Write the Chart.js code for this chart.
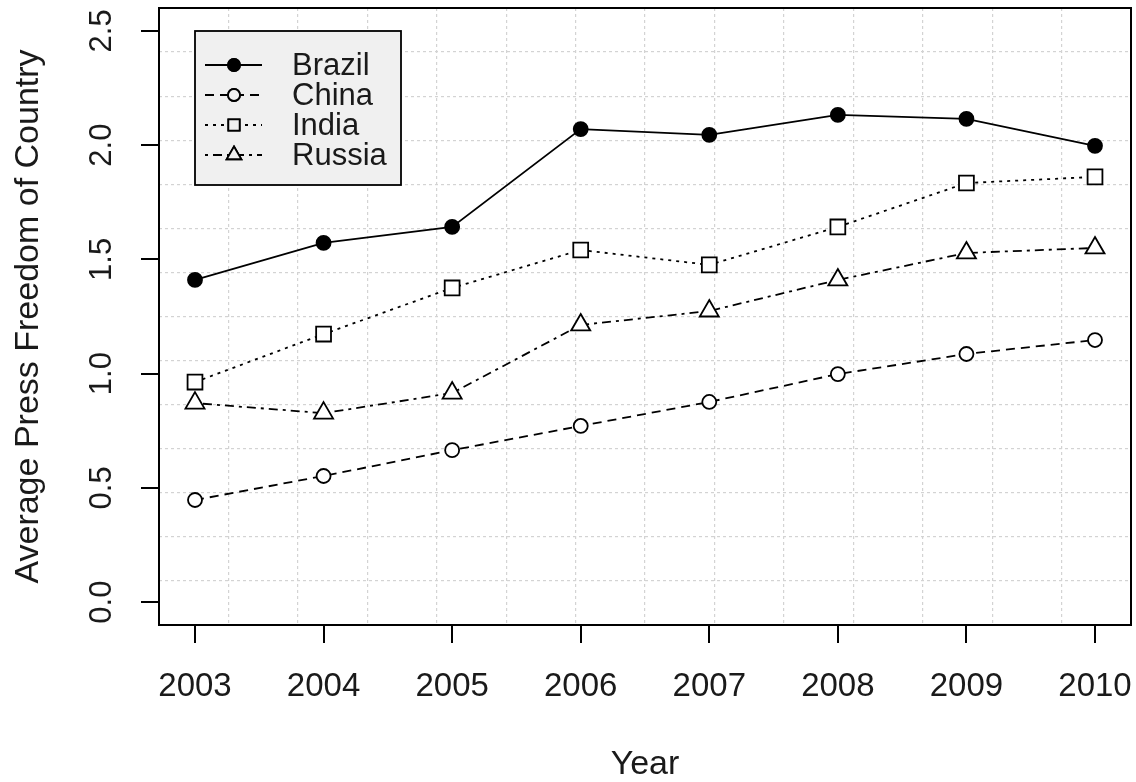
<!DOCTYPE html>
<html>
<head>
<meta charset="utf-8">
<script src="https://cdn.jsdelivr.net/npm/chart.js@4.4.1/dist/chart.umd.min.js"></script>
<style>
  html, body { margin: 0; padding: 0; background: #fff; }
  #wrap { width: 1136px; height: 782px; }
</style>
</head>
<body>
<div id="wrap"><canvas id="c" width="1136" height="782"></canvas></div>
<script>
const years = [2003, 2004, 2005, 2006, 2007, 2008, 2009, 2010];
const brazil = [1.41, 1.572, 1.642, 2.07, 2.045, 2.132, 2.115, 1.997];
const china = [0.447, 0.552, 0.665, 0.771, 0.876, 0.998, 1.086, 1.147];
const india = [0.963, 1.173, 1.375, 1.541, 1.476, 1.642, 1.834, 1.861];
const russia = [0.871, 0.827, 0.915, 1.213, 1.274, 1.41, 1.528, 1.55];
const yTicks = [0, 0.5, 1.0, 1.5, 2.0, 2.5];
const seriesNames = ['Brazil', 'China', 'India', 'Russia'];

const FONT = "'Liberation Sans', Arial, sans-serif";
const INK = '#1a1a1a';

const pts = vals => years.map((yr, i) => ({ x: yr, y: vals[i] }));

// marker/line look of the four series (R pch 16, 1, 0, 2 with lty 1..4)
const looks = [
  { dash: [], style: 'circle', r: 7, fill: '#000', lr: 6 },
  { dash: [9, 6], style: 'circle', r: 7, fill: '#fff', lr: 6 },
  { dash: [3, 5], style: 'rect', r: 10.5, fill: '#fff', lr: 8 },
  { dash: [3, 5, 9, 5], style: 'triangle', r: 11, fill: '#fff', lr: 8.5 }
];

const datasets = [brazil, china, india, russia].map((vals, i) => ({
  label: seriesNames[i],
  data: pts(vals),
  xAxisID: 'x',
  yAxisID: 'y',
  borderColor: '#000',
  borderWidth: 1.8,
  borderDash: looks[i].dash,
  pointStyle: looks[i].style,
  pointRadius: looks[i].r,
  pointBackgroundColor: looks[i].fill,
  pointBorderColor: '#000',
  pointBorderWidth: 1.8,
  tension: 0,
  fill: false
}));

const noPad = s => { s.paddingLeft = 0; s.paddingRight = 0; s.paddingTop = 0; s.paddingBottom = 0; };

// box, rotated y labels and the legend, drawn like R's base graphics
const rStyle = {
  id: 'rStyle',
  afterDraw(chart) {
    const { ctx, chartArea: a, scales } = chart;
    ctx.save();
    ctx.strokeStyle = '#000';
    ctx.lineWidth = 2;
    ctx.setLineDash([]);
    ctx.strokeRect(a.left, a.top, a.right - a.left, a.bottom - a.top);

    ctx.fillStyle = INK;
    ctx.font = '31px ' + FONT;
    ctx.textAlign = 'center';
    ctx.textBaseline = 'middle';
    yTicks.forEach(v => {
      const py = scales.y.getPixelForValue(v);
      ctx.save();
      ctx.translate(102, py);
      ctx.rotate(-Math.PI / 2);
      ctx.fillText(v.toFixed(1), 0, 0);
      ctx.restore();
    });

    // legend
    const lx = a.left + 36, ly = a.top + 23, lw = 206, lh = 154;
    ctx.fillStyle = '#f0f0f0';
    ctx.fillRect(lx, ly, lw, lh);
    ctx.strokeStyle = '#000';
    ctx.lineWidth = 1.8;
    ctx.strokeRect(lx, ly, lw, lh);
    chart.data.datasets.forEach((ds, i) => {
      const cy = ly + 34 + i * 30;
      ctx.setLineDash(looks[i].dash);
      ctx.lineWidth = 1.8;
      ctx.beginPath();
      ctx.moveTo(lx + 10, cy);
      ctx.lineTo(lx + 67, cy);
      ctx.stroke();
      ctx.setLineDash([]);
      ctx.fillStyle = i === 0 ? '#000' : '#f0f0f0';
      Chart.helpers.drawPoint(ctx, {
        pointStyle: looks[i].style, rotation: 0, radius: looks[i].lr, borderWidth: 1.8
      }, lx + 39, cy);
      ctx.fill();
      ctx.stroke();
      ctx.fillStyle = INK;
      ctx.font = '31px ' + FONT;
      ctx.textAlign = 'left';
      ctx.textBaseline = 'middle';
      ctx.fillText(ds.label, lx + 97, cy + 1);
    });
    ctx.restore();
  }
};

new Chart(document.getElementById('c'), {
  type: 'line',
  data: { datasets },
  plugins: [rStyle],
  options: {
    responsive: false,
    animation: false,
    events: [],
    layout: { autoPadding: false, padding: { top: 8, right: 5, left: 0, bottom: 0 } },
    plugins: { legend: { display: false }, tooltip: { enabled: false } },
    scales: {
      gx: {
        type: 'linear', position: 'bottom', min: 0, max: 14,
        ticks: { display: false, stepSize: 1 },
        grid: { color: '#d3d3d3', lineWidth: 1.2, drawTicks: false },
        border: { display: false, dash: [3, 3] },
        afterFit: s => { s.height = 0; noPad(s); }
      },
      gy: {
        type: 'linear', position: 'left', min: 0, max: 14,
        ticks: { display: false, stepSize: 1 },
        grid: { color: '#d3d3d3', lineWidth: 1.2, drawTicks: false },
        border: { display: false, dash: [3, 3] },
        afterFit: s => { s.width = 0; noPad(s); }
      },
      x: {
        type: 'linear', position: 'bottom', min: 2002.72, max: 2010.28,
        afterBuildTicks: s => { s.ticks = years.map(v => ({ value: v })); },
        afterFit: s => { s.height = 157; noPad(s); },
        ticks: {
          color: INK, font: { family: FONT, size: 33 }, padding: 24,
          maxRotation: 0, autoSkip: false,
          callback: v => String(v)
        },
        grid: { drawOnChartArea: false, color: '#000', lineWidth: 2, tickLength: 18 },
        border: { display: true, color: '#000', width: 2 },
        title: {
          display: true, text: 'Year', color: INK,
          font: { family: FONT, size: 34, lineHeight: 1 }, padding: { top: 0, bottom: 0 }
        }
      },
      y: {
        type: 'linear', position: 'left', min: -0.1, max: 2.6,
        afterBuildTicks: s => { s.ticks = yTicks.map(v => ({ value: v })); },
        afterFit: s => { s.width = 159; noPad(s); },
        ticks: { display: false },
        grid: { drawOnChartArea: false, color: '#000', lineWidth: 2, tickLength: 18 },
        border: { display: true, color: '#000', width: 2 },
        title: {
          display: true, text: 'Average Press Freedom of Country', color: INK,
          font: { family: FONT, size: 34, lineHeight: 1 }, padding: { top: 12, bottom: 0 }
        }
      }
    }
  }
});
</script>
</body>
</html>
